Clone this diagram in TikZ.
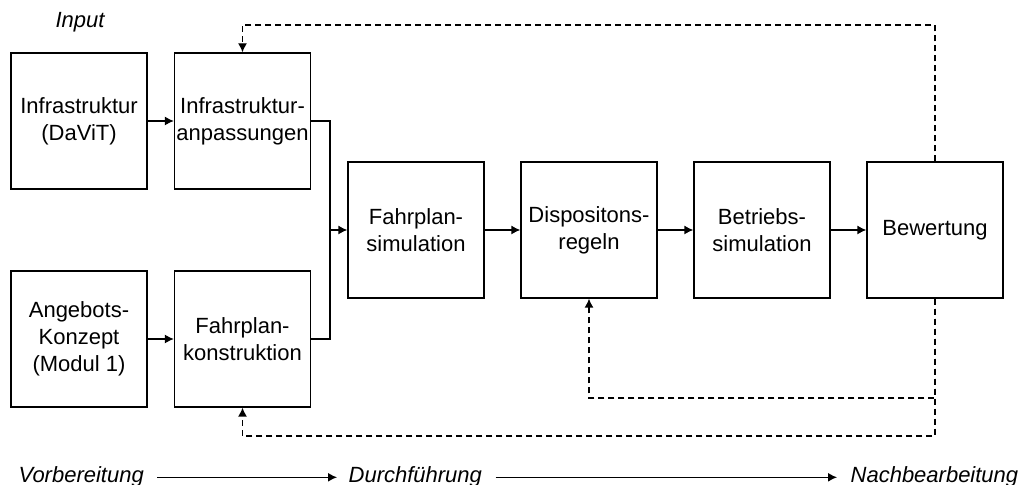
\documentclass[tikz,border=0pt]{standalone}
\usepackage{fontspec}
\setmainfont{Liberation Sans}
\usetikzlibrary{arrows.meta}
\begin{document}
\begin{tikzpicture}[x=0.5pt, y=-0.5pt, >={Latex[length=4.5pt,width=4.5pt]}, line width=0.65pt,
    main node/.style={rectangle,draw,minimum width=68pt,minimum height=68pt,inner sep=0pt,align=center,font=\fontsize{11}{13.5}\selectfont},
    phase/.style={font=\fontsize{11}{13.5}\selectfont\itshape,inner xsep=5.5pt,inner ysep=0pt},
    feedback/.style={->,dash pattern=on 3pt off 2pt}]

    \useasboundingbox (0,0) rectangle (1023,485);

    \node[phase] at (80,22) (input) {Input};

    \node[main node] at (79,121) (infra) {Infrastruktur\\(DaViT)};
    \node[main node] at (242.5,121) (anpass) {Infrastruktur-\\anpassungen};
    \node[main node] at (79,339) (angebot) {Angebots-\\Konzept\\(Modul 1)};
    \node[main node] at (242.5,339) (konstr) {Fahrplan-\\konstruktion};
    \node[main node] at (416,230) (fsim) {Fahrplan-\\simulation};
    \node[main node] at (589,230) (dispo) {Dispositons-\\regeln};
    \node[main node] at (762,230) (bsim) {Betriebs-\\simulation};
    \node[main node] at (935,230) (bewert) {Bewertung};

    \coordinate (merge) at (330,230);
    \coordinate (top) at (0,25);
    \coordinate (inner) at (0,398);
    \coordinate (outer) at (0,436);

    \path[->] (infra) edge (anpass);
    \path[->] (angebot) edge (konstr);
    \draw (anpass.east) -| (merge);
    \draw (konstr.east) -| (merge);
    \path[->] (merge) edge (fsim);
    \path[->] (fsim) edge (dispo);
    \path[->] (dispo) edge (bsim);
    \path[->] (bsim) edge (bewert);

    % feedback loops
    \draw[feedback] (bewert.north) |- (top -| anpass.north) -- (anpass.north);
    \draw[feedback] (bewert.south) |- (inner -| dispo.south) -- (dispo.south);
    \draw[feedback] (bewert.south) |- (outer -| konstr.south) -- (konstr.south);

    \node[phase,anchor=base west,inner xsep=0pt] at (18,483) (vorb) {Vorbereitung};
    \node[phase,anchor=base west,inner xsep=0pt] at (348,483) (durch) {Durchführung};
    \node[phase,anchor=base west,inner xsep=0pt] at (850,483) (nach) {Nachbearbeitung};

    \draw[->,shorten <=6.5pt,shorten >=5.5pt] (vorb.east) -- (durch.west);
    \draw[->,shorten <=6.5pt,shorten >=6.5pt] (durch.east) -- (nach.west);
\end{tikzpicture}
\end{document}
